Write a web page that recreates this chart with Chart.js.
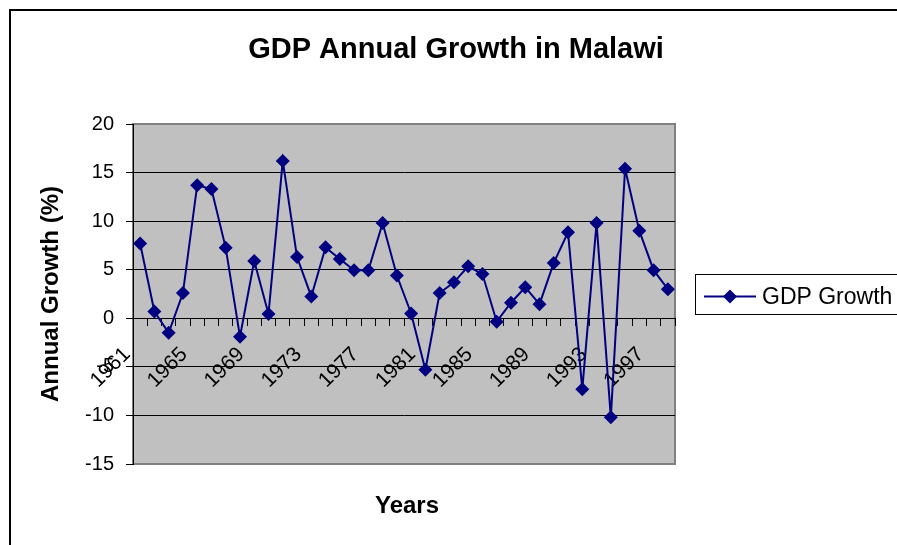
<!DOCTYPE html>
<html>
<head>
<meta charset="utf-8">
<script src="https://cdn.jsdelivr.net/npm/chart.js@4.4.0/dist/chart.umd.min.js"></script>
<style>
  html, body { margin: 0; padding: 0; background: #fff; }
  canvas { display: block; }
</style>
</head>
<body>
<canvas id="gdpChart" width="897" height="545"></canvas>
<script>
// GDP growth, Malawi

const years = [
  "1961", "1962", "1963", "1964", "1965", "1966", "1967", "1968", "1969", "1970",
  "1971", "1972", "1973", "1974", "1975", "1976", "1977", "1978", "1979", "1980",
  "1981", "1982", "1983", "1984", "1985", "1986", "1987", "1988", "1989", "1990",
  "1991", "1992", "1993", "1994", "1995", "1996", "1997", "1998",
];

const growth = [
  7.7, 0.7, -1.5, 2.6, 13.7, 13.3, 7.25, -1.9, 5.9, 0.45,
  16.2, 6.3, 2.25, 7.3, 6.1, 4.95, 4.95, 9.8, 4.4, 0.5,
  -5.3, 2.6, 3.7, 5.35, 4.55, -0.35, 1.6, 3.2, 1.45, 5.7,
  8.85, -7.3, 9.8, -10.2, 15.4, 9.0, 4.95, 3.0,
];

const yTicks = { min: -15, max: 20, step: 5 };

const chartTitle = "GDP Annual Growth in Malawi";
const xTitle = "Years";
const yTitle = "Annual Growth (%)";
const seriesName = "GDP Growth";

const FONT = '"Liberation Sans", Arial, sans-serif';
const lineColor = "#000080";

Chart.defaults.font.family = FONT;
Chart.defaults.color = "#000";

// frame, plot background, title, x title and boxed legend
const decor = {
  id: "decor",
  beforeDraw(chart) {
    const { ctx, chartArea: a } = chart;
    ctx.save();
    ctx.fillStyle = "#fff";
    ctx.fillRect(0, 0, chart.width, chart.height);

    // outer frame
    ctx.strokeStyle = "#000";
    ctx.lineWidth = 2;
    ctx.beginPath();
    ctx.moveTo(10, chart.height + 2);
    ctx.lineTo(10, 10);
    ctx.lineTo(chart.width + 2, 10);
    ctx.stroke();

    // plot area
    ctx.fillStyle = "#c0c0c0";
    ctx.fillRect(a.left, a.top, a.right - a.left, a.bottom - a.top);
    ctx.strokeStyle = "#808080";
    ctx.lineWidth = 2;
    ctx.strokeRect(a.left, a.top, a.right - a.left, a.bottom - a.top);

    ctx.fillStyle = "#000";
    ctx.textAlign = "center";
    ctx.textBaseline = "alphabetic";
    ctx.font = "bold 29px " + FONT;
    ctx.fillText(chartTitle, 456, 58);
    ctx.font = "bold 24px " + FONT;
    ctx.fillText(xTitle, 407, 513);
    ctx.restore();
  },
  afterDraw(chart) {
    const { ctx } = chart;
    const ds = chart.data.datasets[0];
    ctx.save();
    ctx.strokeStyle = "#000";
    ctx.lineWidth = 1;
    ctx.strokeRect(695.5, 274.5, 220, 40);

    const cy = 296.5;
    ctx.strokeStyle = ds.borderColor;
    ctx.lineWidth = ds.borderWidth;
    ctx.beginPath();
    ctx.moveTo(704, cy);
    ctx.lineTo(756, cy);
    ctx.stroke();
    ctx.fillStyle = ds.pointBackgroundColor;
    Chart.helpers.drawPoint(ctx, { pointStyle: ds.pointStyle, radius: ds.pointRadius, borderWidth: 0 }, 730, cy);

    ctx.fillStyle = "#000";
    ctx.font = "23px " + FONT;
    ctx.textAlign = "left";
    ctx.textBaseline = "middle";
    ctx.fillText(ds.label, 762, cy + 1);
    ctx.restore();
  },
};

new Chart(document.getElementById("gdpChart"), {
  type: "line",
  data: {
    labels: years,
    datasets: [
      {
        label: seriesName,
        data: growth,
        borderColor: lineColor,
        borderWidth: 2,
        pointStyle: "rectRot",
        pointRadius: 7,
        pointBackgroundColor: lineColor,
        pointBorderColor: lineColor,
        pointBorderWidth: 0,
        tension: 0,
      },
    ],
  },
  options: {
    responsive: false,
    animation: false,
    layout: {
      padding: { left: 12, top: 124, right: 222, bottom: 81 },
    },
    scales: {
      x: {
        type: "category",
        offset: true,
        position: { y: 0 },
        border: { color: "#000", width: 1 },
        grid: {
          offset: true,
          drawOnChartArea: false,
          drawTicks: true,
          tickLength: 7,
          tickColor: "#000",
        },
        ticks: {
          autoSkip: false,
          minRotation: 45,
          maxRotation: 45,
          padding: 17,
          labelOffset: -13,
          font: { size: 21 },
          callback: function (value, index) {
            return index % 4 === 0 ? this.getLabelForValue(value) : "";
          },
        },
      },
      y: {
        position: "left",
        min: yTicks.min,
        max: yTicks.max,
        border: { color: "#000", width: 1 },
        grid: {
          color: (c) =>
            c.tick && (c.tick.value === yTicks.max || c.tick.value === yTicks.min) ? "#808080" : "#000",
          tickColor: "#000",
          tickLength: 7,
        },
        ticks: {
          stepSize: yTicks.step,
          padding: 12,
          font: { size: 20 },
        },
        title: {
          display: true,
          text: yTitle,
          font: { size: 24, weight: "bold" },
          padding: { top: 25, bottom: 0 },
        },
        afterFit(scale) {
          scale.width = 121;
        },
      },
    },
    plugins: {
      legend: { display: false },
      title: { display: false },
      tooltip: { enabled: false },
    },
  },
  plugins: [decor],
});
</script>
</body>
</html>
